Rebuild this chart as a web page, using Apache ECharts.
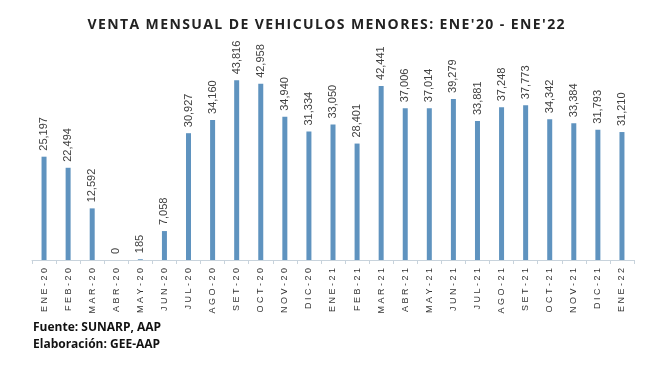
<!DOCTYPE html>
<html>
<head>
<meta charset="utf-8">
<script src="https://cdn.jsdelivr.net/npm/echarts@6/dist/echarts.min.js"></script>
<style>html,body{margin:0;padding:0;background:#fff}#c{width:652px;height:368px}</style>
</head>
<body>
<div id="c"></div>
<script>
const categories = ["ENE-20","FEB-20","MAR-20","ABR-20","MAY-20","JUN-20","JUL-20","AGO-20","SET-20","OCT-20","NOV-20","DIC-20","ENE-21","FEB-21","MAR-21","ABR-21","MAY-21","JUN-21","JUL-21","AGO-21","SET-21","OCT-21","NOV-21","DIC-21","ENE-22"];
const ventas = [25197,22494,12592,0,185,7058,30927,34160,43816,42958,34940,31334,33050,28401,42441,37006,37014,39279,33881,37248,37773,34342,33384,31793,31210];
const titleText = "VENTA MENSUAL DE VEHICULOS MENORES: ENE'20 - ENE'22";
const footerLines = ["Fuente: SUNARP, AAP", "Elaboración: GEE-AAP"];

const chart = echarts.init(document.getElementById('c'), null, {renderer: 'canvas'});
chart.setOption({
  animation: false,
  backgroundColor: '#ffffff',
  title: {
    text: titleText.split('').join('\u200A'),
    left: 'center',
    top: 13,
    textStyle: {fontFamily: 'Open Sans', fontWeight: 'bold', fontSize: 14, color: '#222222'}
  },
  graphic: [
    {type: 'text', left: 33, top: 322, style: {text: footerLines[0], font: 'bold 12px "Open Sans"', fill: '#111111'}},
    {type: 'text', left: 33, top: 339, style: {text: footerLines[1], font: 'bold 12px "Open Sans"', fill: '#111111'}}
  ],
  grid: {left: 32, right: 18, top: 55, bottom: 108, containLabel: false},
  xAxis: {
    type: 'category',
    data: categories,
    boundaryGap: true,
    axisLine: {lineStyle: {color: '#c8d3dc', width: 1}},
    axisTick: {show: true, length: 4, lineStyle: {color: '#c8d3dc'}},
    axisLabel: {
      rotate: 90,
      interval: 0,
      margin: 8,
      fontSize: 9,
      fontFamily: 'Liberation Sans',
      color: '#333333',
      formatter: v => v.split('').join(' ')
    }
  },
  yAxis: {
    type: 'value',
    min: 0,
    max: 50000,
    show: false,
    splitLine: {show: false}
  },
  series: [{
    type: 'bar',
    data: ventas,
    barWidth: 5,
    itemStyle: {color: '#5f93bf'},
    label: {
      show: true,
      position: 'top',
      rotate: 90,
      align: 'left',
      verticalAlign: 'middle',
      distance: 6,
      fontSize: 11,
      fontFamily: 'Liberation Sans',
      color: '#404040',
      formatter: p => p.value.toLocaleString('en-US')
    }
  }]
});
</script>
</body>
</html>
